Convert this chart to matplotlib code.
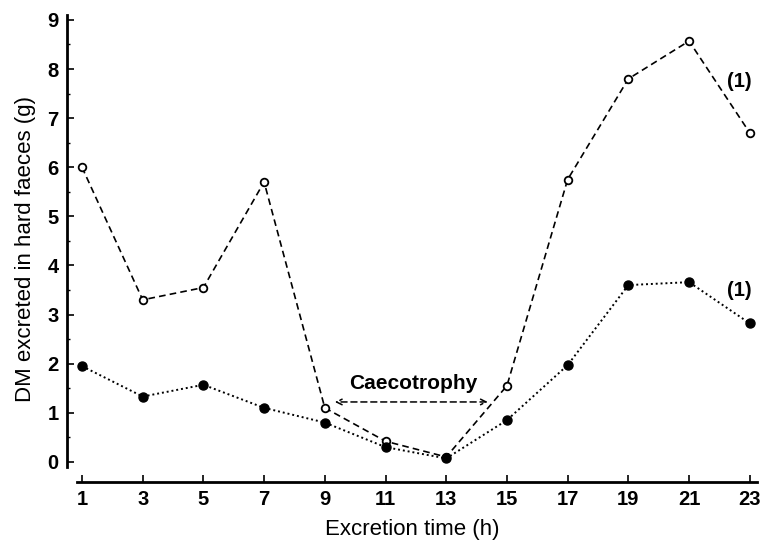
import numpy as np
import matplotlib
matplotlib.use('Agg')
import matplotlib.pyplot as plt
from matplotlib.ticker import MultipleLocator

plt.rcParams['font.family'] = ['Liberation Sans', 'DejaVu Sans']

hours = [1, 3, 5, 7, 9, 11, 13, 15, 17, 19, 21, 23]
open_dm = [6.0, 3.3, 3.55, 5.7, 1.1, 0.42, 0.1, 1.55, 5.75, 7.8, 8.57, 6.7]
filled_dm = [1.95, 1.33, 1.57, 1.1, 0.8, 0.3, 0.07, 0.85, 1.97, 3.6, 3.66, 2.82]
x_ticks = [1, 3, 5, 7, 9, 11, 13, 15, 17, 19, 21, 23]
y_ticks = [0, 1, 2, 3, 4, 5, 6, 7, 8, 9]

fig = plt.figure(figsize=(7.63, 5.42), dpi=100)
ax = fig.add_axes([0.0878, 0.1107, 0.904, 0.8616])

ax.plot(hours, open_dm, color='black', lw=1.2, dashes=(4, 2.5),
        marker='o', ms=5.5, mfc='white', mec='black', mew=1.3)
ax.plot(hours, filled_dm, color='black', lw=1.4, linestyle=(0, (1, 1.5)),
        marker='o', ms=6.5, mfc='black', mec='black')

# caecotrophy period
ax.annotate('', xy=(9.33, 1.22), xytext=(14.37, 1.22),
            arrowprops=dict(arrowstyle='<->', color='black', lw=1.1,
                            linestyle=(0, (4, 2.5)), shrinkA=0, shrinkB=0))
ax.text(11.9, 1.6, 'Caecotrophy', ha='center', va='center',
        fontsize=15, fontweight='bold')
ax.text(22.67, 7.74, '(1)', ha='center', va='center', fontsize=14.5, fontweight='bold')
ax.text(22.67, 3.5, '(1)', ha='center', va='center', fontsize=14.5, fontweight='bold')

ax.set_xlim(0.506, 23.23)
ax.set_ylim(-0.41, 9.1)
ax.set_xticks(x_ticks)
ax.set_yticks(y_ticks)
ax.yaxis.set_minor_locator(MultipleLocator(0.5))

ax.spines['top'].set_visible(False)
ax.spines['right'].set_visible(False)
ax.spines['left'].set_linewidth(2)
ax.spines['bottom'].set_linewidth(2)
ax.spines['left'].set_bounds(-0.1, 9.1)
ax.spines['bottom'].set_bounds(0.84, 23.23)

ax.tick_params(axis='both', direction='in', length=5, width=1.2,
               labelsize=14.5)
ax.tick_params(axis='y', which='minor', direction='in', length=2.5, width=1)
for lbl in ax.get_xticklabels() + ax.get_yticklabels():
    lbl.set_fontweight('bold')
ax.tick_params(axis='x', pad=6)
ax.tick_params(axis='y', pad=6)

ax.set_xlabel('Excretion time (h)', fontsize=16, labelpad=7)
ax.set_ylabel('DM excreted in hard faeces (g)', fontsize=16, labelpad=8)

fig.savefig('out.png', dpi=100)
